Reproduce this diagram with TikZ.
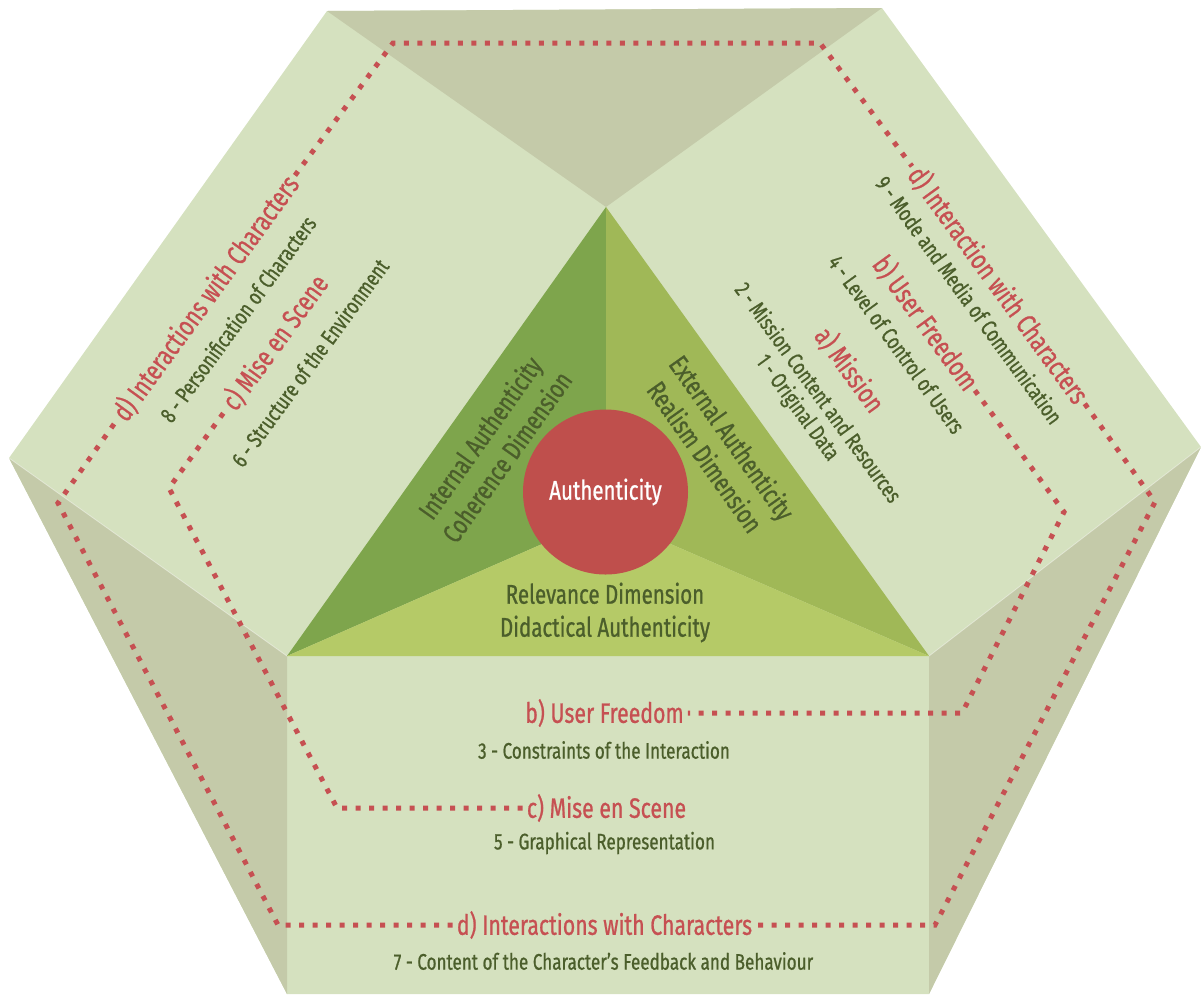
\documentclass[tikz,border=0pt]{standalone}
\usepackage{fontspec}
\setmainfont{Fira Sans}[FakeStretch=0.76,FakeBold=0.8]
\usetikzlibrary{calc}
\definecolor{faceL}{HTML}{D5E1BF}
\definecolor{faceD}{HTML}{C4CAA9}
\definecolor{triL}{HTML}{7EA54C}
\definecolor{triR}{HTML}{A0B857}
\definecolor{triB}{HTML}{B5CA67}
\definecolor{circ}{HTML}{BF4F4C}
\definecolor{redt}{HTML}{C65052}
\definecolor{grnt}{HTML}{4B5E2B}
\begin{document}
\begin{tikzpicture}[x=1pt,y=-1pt,
  redlab/.style={text=redt, font=\fontsize{28}{32}\selectfont, inner sep=4pt},
  sublab/.style={text=grnt, font=\fontsize{22.5}{26}\selectfont, inner sep=0pt},
  dimlab/.style={text=grnt, font=\fontsize{27}{33}\selectfont, align=center, inner sep=0pt},
  dots/.style={draw=redt, line width=5pt, dash pattern=on 5pt off 8.5pt},
]
\useasboundingbox (0,0) rectangle (1201,994);
% faces
\fill[faceL] (327,11) -- (882,8) -- (1201,447) -- (929,994) -- (287,994) -- (9,458) -- cycle;
\fill[faceD] (327,11) -- (882,8) -- (606,207) -- cycle;
\fill[faceD] (9,458) -- (287,656) -- (287,994) -- cycle;
\fill[faceD] (1201,447) -- (929,656) -- (929,994) -- cycle;
\draw[white, opacity=0.45, line width=0.8pt] (9,458) -- (287,656) (1201,447) -- (929,656);
% triangle
\coordinate (tA) at (606,207);
\coordinate (tBL) at (287,656);
\coordinate (tBR) at (929,656);
\coordinate (tS) at (606,516);
\fill[triL] (tA) -- (tS) -- (tBL) -- cycle;
\fill[triR] (tA) -- (tBR) -- (tS) -- cycle;
\fill[triB] (tBL) -- (tS) -- (tBR) -- cycle;
\node[circle, fill=circ, minimum size=165pt, inner sep=0pt, text=white,
  font=\fontsize{27}{30}\selectfont] (auth) at (605.5,492) {Authenticity};
\node[dimlab, rotate=54.6] (tInt) at (493,447) {Internal Authenticity\\Coherence Dimension};
\node[dimlab, rotate=-54.6] (tExt) at (719,447) {External Authenticity\\Realism Dimension};
\node[dimlab] (tRel) at (605,612.5) {Relevance Dimension\\Didactical Authenticity};
% corners of dotted paths
\coordinate (cTL) at (393,43);
\coordinate (cTR) at (820,43);
\coordinate (cR) at (1155,502);
\coordinate (cBR) at (935,925);
\coordinate (cBL) at (278,925);
\coordinate (cL) at (58,503);
\coordinate (cRb) at (1064,512);
\coordinate (cBb) at (962,713);
\coordinate (cBc) at (337,808);
\coordinate (cLc) at (169,488);
% left face texts  (L + t*u + o*n)
\node[redlab, rotate=53.95] (Ld) at ({60+0.5885*253-0.8085*4},{505-0.8085*253-0.5885*4}) {d) Interactions with Characters};
\node[sublab, rotate=53.95] (L8) at ({60+0.5885*255+0.8085*34},{505-0.8085*255+0.5885*34}) {8 - Personification of Characters};
\node[redlab, rotate=53.95] (Lc) at ({60+0.5885*258+0.8085*78},{505-0.8085*258+0.5885*78}) {c) Mise en Scene};
\node[sublab, rotate=53.95] (L6) at ({60+0.5885*262+0.8085*118},{505-0.8085*262+0.5885*118}) {6 - Structure of the Environment};
% right face texts (TR + t*u + o*n)
\node[redlab, rotate=-53.95] (Rd) at ({818+0.5885*301+0.8085*4},{44+0.8085*301-0.5885*4}) {d) Interaction with Characters};
\node[sublab, rotate=-53.95] (R9) at ({818+0.5885*296-0.8085*28},{44+0.8085*296+0.5885*28}) {9 - Mode and Media of Communication};
\node[redlab, rotate=-53.95] (Rb) at ({818+0.5885*289-0.8085*77},{44+0.8085*289+0.5885*77}) {b) User Freedom};
\node[sublab, rotate=-53.95] (R4) at ({818+0.5885*289-0.8085*113},{44+0.8085*289+0.5885*113}) {4 - Level of Control of Users};
\node[redlab, rotate=-53.95] (Ra) at ({818+0.5885*282-0.8085*166},{44+0.8085*282+0.5885*166}) {a) Mission};
\node[sublab, rotate=-53.95] (R2) at ({818+0.5885*282-0.8085*204},{44+0.8085*282+0.5885*204}) {2 - Mission Content and Resources};
\node[sublab, rotate=-53.95] (R1) at ({818+0.5885*282-0.8085*231},{44+0.8085*282+0.5885*231}) {1 - Original Data};
% bottom face texts
\node[redlab] (Bb) at (604.5,713) {b) User Freedom};
\node[sublab] (B3) at (604,750) {3 - Constraints of the Interaction};
\node[redlab] (Bc) at (606.5,808) {c) Mise en Scene};
\node[sublab] (B5) at (604.5,843) {5 - Graphical Representation};
\node[redlab] (Bd) at (604.5,925) {d) Interactions with Characters};
\node[sublab] (B7) at (603.5,961) {7 - Content of the Character’s Feedback and Behaviour};
% dotted connectors
\draw[dots] (Ld.east) -- (cTL) -- (cTR) -- (Rd.west);
\draw[dots] (Rd.east) -- (cR) -- (cBR) -- (Bd.east);
\draw[dots] (Bd.west) -- (cBL) -- (cL) -- (Ld.west);
\draw[dots] (Rb.east) -- (cRb) -- (cBb) -- (Bb.east);
\draw[dots] (Bc.west) -- (cBc) -- (cLc) -- (Lc.west);
\end{tikzpicture}
\end{document}
